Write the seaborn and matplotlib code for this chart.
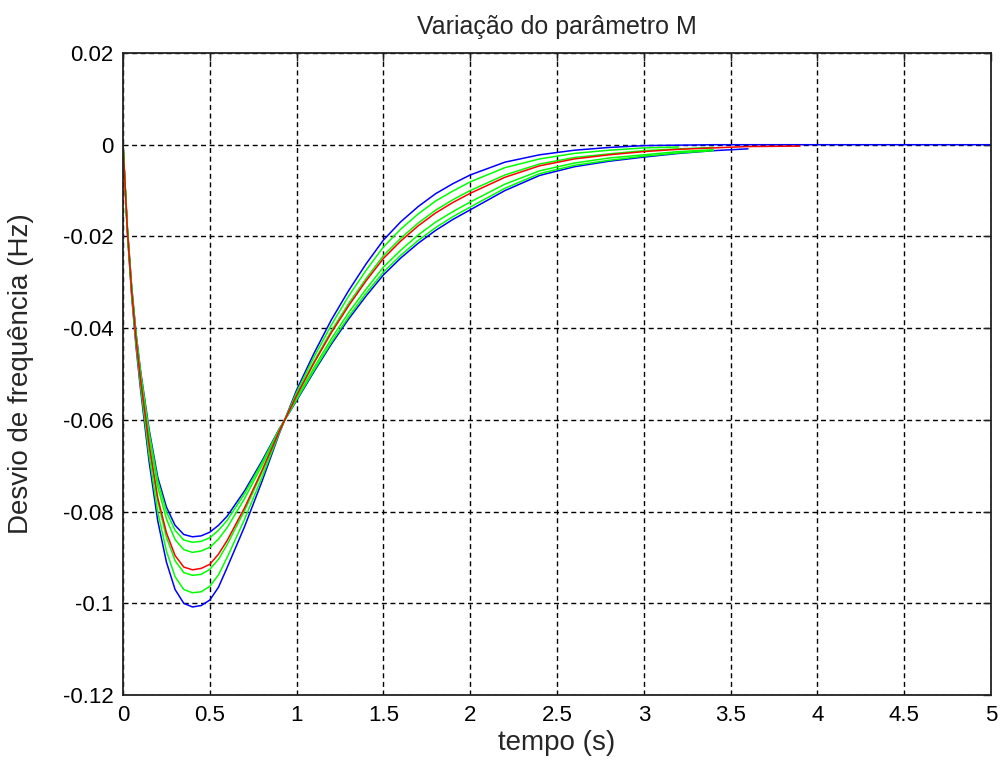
import numpy as np
import pandas as pd
import matplotlib
matplotlib.use("Agg")
import matplotlib.pyplot as plt
import seaborn as sns

# ---------------- data ----------------
t = [0, 0.025, 0.05, 0.075, 0.1, 0.15, 0.2, 0.25, 0.3, 0.35, 0.4, 0.45, 0.5,
     0.55, 0.6, 0.7, 0.8, 0.9, 1.0, 1.1, 1.2, 1.3, 1.4, 1.5, 1.6, 1.7, 1.8,
     1.9, 2.0, 2.2, 2.4, 2.6, 2.8, 3.0, 3.2, 3.4, 3.6, 3.9, 4.0, 4.5, 5.0]

blue_fast = [0, -0.0190, -0.0330, -0.0440, -0.0530, -0.0690, -0.0820, -0.0910,
             -0.0970, -0.1000, -0.1008, -0.1005, -0.0993, -0.0965, -0.0922,
             -0.0833, -0.0735, -0.0630, -0.0535, -0.0455, -0.0382, -0.0318,
             -0.0260, -0.0208, -0.0168, -0.0135, -0.0107, -0.0085, -0.0066,
             -0.0038, -0.0022, -0.0012, -0.0006, -0.0002, -0.0001, 0.0, 0.0,
             0.0, 0.0, 0.0, 0.0]

green_1 = [0, -0.0188, -0.0326, -0.0434, -0.0522, -0.0676, -0.0801, -0.0886,
           -0.0942, -0.0970, -0.0977, -0.0975, -0.0963, -0.0938, -0.0900,
           -0.0817, -0.0726, -0.0628, -0.0540, -0.0463, -0.0393, -0.0330,
           -0.0274, -0.0223, -0.0184, -0.0151, -0.0123, -0.0101, -0.0081,
           -0.0050, -0.0031, -0.0019, -0.0012, -0.0007, -0.0005]

green_2 = [0, -0.0185, -0.0321, -0.0427, -0.0512, -0.0659, -0.0777, -0.0856,
           -0.0907, -0.0933, -0.0939, -0.0937, -0.0926, -0.0904, -0.0872,
           -0.0798, -0.0715, -0.0626, -0.0545, -0.0473, -0.0406, -0.0346,
           -0.0292, -0.0242, -0.0204, -0.0171, -0.0143, -0.0120, -0.0100,
           -0.0066, -0.0042, -0.0028, -0.0020, -0.0013, -0.0009, -0.0006]

red_mid = [0, -0.0185, -0.0319, -0.0424, -0.0509, -0.0653, -0.0770, -0.0846,
           -0.0896, -0.0921, -0.0927, -0.0924, -0.0915, -0.0893, -0.0863,
           -0.0792, -0.0711, -0.0625, -0.0547, -0.0476, -0.0410, -0.0351,
           -0.0297, -0.0248, -0.0210, -0.0177, -0.0149, -0.0126, -0.0106,
           -0.0071, -0.0046, -0.0031, -0.0022, -0.0015, -0.0010, -0.0007,
           -0.0004, -0.0003]

green_3 = [0, -0.0182, -0.0314, -0.0417, -0.0499, -0.0635, -0.0746, -0.0816,
           -0.0861, -0.0883, -0.0889, -0.0886, -0.0878, -0.0860, -0.0835,
           -0.0772, -0.0700, -0.0622, -0.0553, -0.0486, -0.0423, -0.0366,
           -0.0315, -0.0267, -0.0230, -0.0197, -0.0169, -0.0146, -0.0125,
           -0.0086, -0.0057, -0.0040, -0.0029, -0.0022, -0.0015, -0.0011]

green_4 = [0, -0.0181, -0.0312, -0.0412, -0.0493, -0.0626, -0.0733, -0.0800,
           -0.0841, -0.0862, -0.0867, -0.0865, -0.0857, -0.0841, -0.0819,
           -0.0761, -0.0694, -0.0621, -0.0556, -0.0492, -0.0431, -0.0375,
           -0.0324, -0.0278, -0.0241, -0.0209, -0.0181, -0.0157, -0.0136,
           -0.0095, -0.0063, -0.0045, -0.0034, -0.0025, -0.0018, -0.0013]

blue_slow = [0, -0.0180, -0.0310, -0.0410, -0.0490, -0.0620, -0.0725, -0.0790,
             -0.0830, -0.0850, -0.0855, -0.0853, -0.0845, -0.0830, -0.0810,
             -0.0755, -0.0690, -0.0620, -0.0558, -0.0495, -0.0435, -0.0380,
             -0.0330, -0.0284, -0.0247, -0.0215, -0.0187, -0.0163, -0.0142,
             -0.0100, -0.0067, -0.0048, -0.0036, -0.0027, -0.0019, -0.0013,
             -0.0009]

x_ticks = [0, 0.5, 1, 1.5, 2, 2.5, 3, 3.5, 4, 4.5, 5]
x_tick_labels = ["0", "0.5", "1", "1.5", "2", "2.5", "3", "3.5", "4", "4.5", "5"]
y_ticks = [-0.12, -0.1, -0.08, -0.06, -0.04, -0.02, 0, 0.02]
y_tick_labels = ["-0.12", "-0.1", "-0.08", "-0.06", "-0.04", "-0.02", "0", "0.02"]

title = "Variação do parâmetro M"
xlabel = "tempo (s)"
ylabel = "Desvio de frequência (Hz)"

# ---------------- plotting ----------------
sns.set_style("white")
plt.rcParams["font.family"] = ["Liberation Sans", "DejaVu Sans"]

fig = plt.figure(figsize=(10.04, 7.67), dpi=100)
ax = fig.add_axes([123 / 1004, 1 - 695 / 767, 868 / 1004, 642 / 767])

series = [
    (blue_fast, "#0000ff"),
    (blue_slow, "#0000ff"),
    (green_1, "#00ff00"),
    (green_2, "#00ff00"),
    (green_3, "#00ff00"),
    (green_4, "#00ff00"),
    (red_mid, "#ff0000"),
]
for vals, col in series:
    df = pd.DataFrame({"t": t[:len(vals)], "v": vals})
    sns.lineplot(data=df, x="t", y="v", color=col, linewidth=1.1,
                 sort=False, estimator=None, ax=ax)

ax.set_xlim(0, 5)
ax.set_ylim(-0.12, 0.02)
ax.set_xticks(x_ticks)
ax.set_xticklabels(x_tick_labels)
ax.set_yticks(y_ticks)
ax.set_yticklabels(y_tick_labels)

ax.grid(True, color="black", linestyle=(0, (3.6, 2.6)), linewidth=1.0)
ax.set_axisbelow(True)
for s in ax.spines.values():
    s.set_visible(True)
    s.set_color("#222222")
    s.set_linewidth(1.3)
ax.tick_params(direction="in", length=6, width=1, top=True, right=True,
               labelsize=16, colors="#222222", pad=7)
for lab in ax.get_xticklabels() + ax.get_yticklabels():
    lab.set_color("black")

ax.set_title(title, fontsize=18, pad=14)
ax.set_xlabel(xlabel, fontsize=20, labelpad=3)
ax.set_ylabel(ylabel, fontsize=20)
ax.yaxis.set_label_coords(-0.102, 0.5)

fig.savefig("out.png", dpi=100)
